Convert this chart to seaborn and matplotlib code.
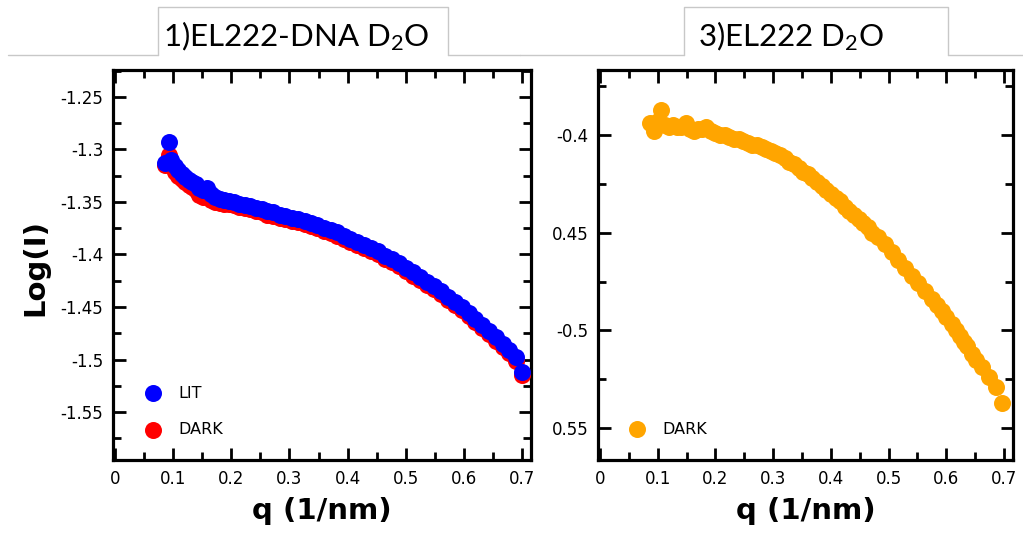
import matplotlib
matplotlib.use("Agg")
import matplotlib.pyplot as plt
import seaborn as sns
import pandas as pd
from matplotlib.ticker import MultipleLocator, FixedLocator, FixedFormatter
from matplotlib.lines import Line2D

# ---------------- data ----------------
q_left = [0.086, 0.092, 0.097, 0.103, 0.109, 0.115, 0.121, 0.127, 0.133, 0.139,
          0.145, 0.152, 0.158, 0.165, 0.172, 0.180, 0.188, 0.196, 0.205, 0.214,
          0.223, 0.232, 0.242, 0.252, 0.262, 0.272, 0.283, 0.293, 0.304, 0.315,
          0.326, 0.337, 0.348, 0.359, 0.371, 0.382, 0.394, 0.405, 0.417, 0.429,
          0.441, 0.452, 0.464, 0.476, 0.488, 0.500, 0.512, 0.524, 0.536, 0.548,
          0.560, 0.572, 0.584, 0.596, 0.608, 0.620, 0.632, 0.644, 0.656, 0.667,
          0.678, 0.689, 0.700]
lit_logI = [-1.313, -1.293, -1.310, -1.316, -1.320, -1.323, -1.326, -1.329, -1.331, -1.333,
            -1.337, -1.339, -1.337, -1.342, -1.345, -1.347, -1.348, -1.349, -1.350, -1.352,
            -1.353, -1.354, -1.356, -1.357, -1.359, -1.360, -1.362, -1.363, -1.365, -1.366,
            -1.368, -1.370, -1.372, -1.375, -1.377, -1.379, -1.382, -1.385, -1.388, -1.391,
            -1.394, -1.397, -1.401, -1.404, -1.408, -1.413, -1.417, -1.421, -1.426, -1.430,
            -1.435, -1.440, -1.445, -1.450, -1.456, -1.461, -1.467, -1.473, -1.479, -1.485,
            -1.491, -1.498, -1.512]
dark_logI = [-1.315, -1.305, -1.315, -1.321, -1.325, -1.328, -1.331, -1.334, -1.336, -1.339,
             -1.343, -1.345, -1.344, -1.348, -1.350, -1.351, -1.352, -1.352, -1.353, -1.355,
             -1.356, -1.357, -1.359, -1.360, -1.362, -1.363, -1.365, -1.366, -1.368, -1.369,
             -1.371, -1.373, -1.375, -1.378, -1.380, -1.382, -1.385, -1.388, -1.391, -1.394,
             -1.397, -1.400, -1.404, -1.407, -1.411, -1.416, -1.420, -1.424, -1.429, -1.433,
             -1.438, -1.443, -1.448, -1.453, -1.459, -1.464, -1.470, -1.476, -1.482, -1.488,
             -1.494, -1.501, -1.515]

q_right = [0.087, 0.094, 0.100, 0.105, 0.112, 0.120, 0.127, 0.134, 0.141, 0.149,
           0.156, 0.163, 0.170, 0.177, 0.184, 0.192, 0.200, 0.208, 0.216, 0.224,
           0.232, 0.240, 0.248, 0.256, 0.264, 0.272, 0.280, 0.288, 0.296, 0.304,
           0.312, 0.320, 0.328, 0.336, 0.344, 0.352, 0.360, 0.368, 0.376, 0.384,
           0.392, 0.400, 0.408, 0.416, 0.424, 0.432, 0.440, 0.448, 0.456, 0.464,
           0.472, 0.482, 0.494, 0.506, 0.517, 0.528, 0.540, 0.551, 0.563, 0.575,
           0.584, 0.592, 0.600, 0.609, 0.616, 0.623, 0.630, 0.636, 0.644, 0.652,
           0.662, 0.674, 0.686, 0.696]
dark3_logI = [-0.394, -0.398, -0.393, -0.387, -0.395, -0.396, -0.395, -0.396, -0.396, -0.394,
              -0.397, -0.398, -0.397, -0.397, -0.396, -0.398, -0.399, -0.400, -0.400, -0.401,
              -0.402, -0.402, -0.403, -0.404, -0.405, -0.405, -0.406, -0.407, -0.408, -0.409,
              -0.410, -0.412, -0.414, -0.415, -0.417, -0.419, -0.420, -0.422, -0.424, -0.426,
              -0.428, -0.430, -0.432, -0.434, -0.437, -0.439, -0.441, -0.443, -0.445, -0.447,
              -0.450, -0.452, -0.456, -0.460, -0.464, -0.468, -0.472, -0.476, -0.480, -0.484,
              -0.487, -0.490, -0.493, -0.497, -0.500, -0.503, -0.506, -0.508, -0.512, -0.515,
              -0.519, -0.524, -0.529, -0.537]

titles = ["1)EL222-DNA D$_2$O", "3)EL222 D$_2$O"]
xlabel_text = "q (1/nm)"
ylabel_text = "Log(I)"
left_yticks = [-1.55, -1.5, -1.45, -1.4, -1.35, -1.3, -1.25]
left_yticklabels = ["-1.55", "-1.5", "-1.45", "-1.4", "-1.35", "-1.3", "-1.25"]
right_yticks = [-0.55, -0.5, -0.45, -0.4]
right_yticklabels = ["0.55", "-0.5", "0.45", "-0.4"]
xticks = [0, 0.1, 0.2, 0.3, 0.4, 0.5, 0.6, 0.7]
xticklabels = ["0", "0.1", "0.2", "0.3", "0.4", "0.5", "0.6", "0.7"]

# ---------------- style ----------------
sns.set_theme(style="white")
plt.rcParams["font.family"] = ["DejaVu Sans"]
plt.rcParams["text.color"] = "black"
plt.rcParams["mathtext.fontset"] = "custom"
plt.rcParams["mathtext.rm"] = "Lato"
plt.rcParams["mathtext.it"] = "Lato:italic"
plt.rcParams["mathtext.bf"] = "Lato:bold"

W, H = 1023, 533
fig = plt.figure(figsize=(W / 100, H / 100), dpi=100)
fig.patch.set_facecolor("white")


def rect(x0, y0, x1, y1):
    return [x0 / W, 1 - y1 / H, (x1 - x0) / W, (y1 - y0) / H]


ax1 = fig.add_axes(rect(113, 70, 531, 460))
ax2 = fig.add_axes(rect(598, 70, 1013, 460))

df_left = pd.DataFrame({"q": q_left, "LIT": lit_logI, "DARK": dark_logI})
df_right = pd.DataFrame({"q": q_right, "DARK": dark3_logI})

S = 150
sns.scatterplot(data=df_left, x="q", y="DARK", color="#ff0000", s=S, linewidth=0,
                ax=ax1, label="DARK", zorder=3)
sns.scatterplot(data=df_left, x="q", y="LIT", color="#0000ff", s=S, linewidth=0,
                ax=ax1, label="LIT", zorder=4)
sns.scatterplot(data=df_right, x="q", y="DARK", color="#ffa500", s=S, linewidth=0,
                ax=ax2, label="DARK", zorder=3)

for ax in (ax1, ax2):
    ax.set_facecolor("white")
    ax.set_xlim(-0.0035, 0.7155)
    ax.xaxis.set_major_locator(FixedLocator(xticks))
    ax.xaxis.set_major_formatter(FixedFormatter(xticklabels))
    ax.xaxis.set_minor_locator(MultipleLocator(0.05))
    ax.yaxis.set_minor_locator(MultipleLocator(0.025))
    for sp in ax.spines.values():
        sp.set_visible(True)
        sp.set_linewidth(2.3)
        sp.set_color("black")
    ax.tick_params(which="both", direction="in", top=True, right=True,
                   bottom=True, left=True, width=2, color="black",
                   labelcolor="black", labelsize=12, pad=7)
    ax.tick_params(which="major", length=9)
    ax.tick_params(which="minor", length=5.5)
    ax.grid(False)
    ax.set_ylabel("")
    ax.set_xlabel(xlabel_text, fontsize=21, fontweight="bold", color="black")
    ax.xaxis.set_label_coords(0.5, -0.095)

ax1.set_ylim(-1.5957, -1.2243)
ax1.yaxis.set_major_locator(FixedLocator(left_yticks))
ax1.yaxis.set_major_formatter(FixedFormatter(left_yticklabels))
ax2.set_ylim(-0.5664, -0.3667)
ax2.yaxis.set_major_locator(FixedLocator(right_yticks))
ax2.yaxis.set_major_formatter(FixedFormatter(right_yticklabels))

# legends
h, l = ax1.get_legend_handles_labels()
order = [l.index("LIT"), l.index("DARK")]
ax1.legend([h[i] for i in order], [l[i] for i in order], loc="lower left",
           bbox_to_anchor=(0.077, 0.058), frameon=False, fontsize=11.5,
           handlelength=1.0, handletextpad=1.06, labelspacing=1.36,
           borderpad=0, borderaxespad=0, labelcolor="black")
h2, l2 = ax2.get_legend_handles_labels()
ax2.legend(h2, l2, loc="lower left", bbox_to_anchor=(0.075, 0.060), frameon=False,
           fontsize=11.5, handlelength=1.0, handletextpad=1.06, borderpad=0,
           borderaxespad=0, labelcolor="black")

# y label
fig.text(35 / W, 1 - 268 / H, ylabel_text, rotation=90, ha="center", va="center",
         fontsize=21, fontweight="bold", color="black")

# title tabs
gray = "#c8c8c8"


def seg(xs, ys):
    fig.add_artist(Line2D([x / W for x in xs], [1 - y / H for y in ys],
                          transform=fig.transFigure, color=gray, lw=1.0))


seg([8, 158], [55, 55])
seg([158, 158, 448, 448], [55, 7, 7, 55])
seg([448, 520], [55, 55])
seg([520, 684], [55, 55])
seg([684, 684, 948, 948], [55, 7, 7, 55])
seg([948, 1023], [55, 55])

fig.text(163 / W, 1 - 46 / H, titles[0], fontsize=22.5, family="Lato",
         ha="left", va="baseline", color="black")
fig.text(698 / W, 1 - 46 / H, titles[1], fontsize=22.5, family="Lato",
         ha="left", va="baseline", color="black")

fig.savefig("out.png", dpi=100, facecolor="white")
